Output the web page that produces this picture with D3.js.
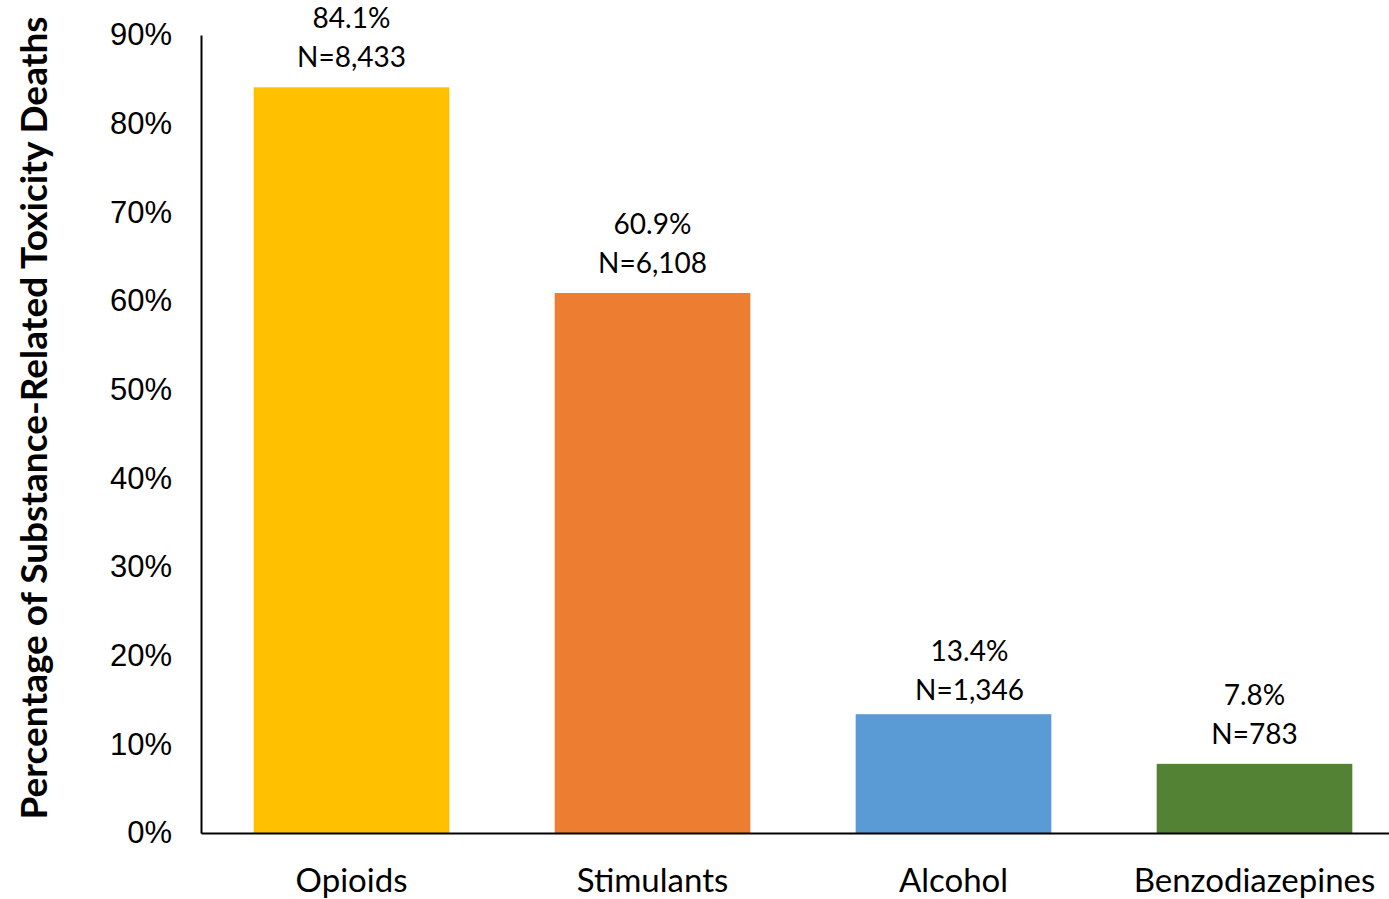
<!DOCTYPE html>
<html>
<head>
<meta charset="utf-8">
<script src="https://cdn.jsdelivr.net/npm/d3@7"></script>
<style>
  html, body { margin: 0; padding: 0; background: #fff; }
  svg { display: block; }
</style>
</head>
<body>
<div id="chart"></div>
<script>
const categories = ["Opioids", "Stimulants", "Alcohol", "Benzodiazepines"];
const percents = [84.1, 60.9, 13.4, 7.8];
const counts = ["8,433", "6,108", "1,346", "783"];
const colors = ["#FFC000", "#ED7D31", "#5B9BD5", "#548235"];
const yTicks = [0, 10, 20, 30, 40, 50, 60, 70, 80, 90];

const width = 1389, height = 899;
const plotLeft = 201, plotRight = 1405, plotTop = 35, plotBottom = 833;

// the alcohol label was dragged a little in the original
const labelNudge = { Alcohol: [16, 6] };

const svg = d3.select("#chart").append("svg")
    .attr("width", width)
    .attr("height", height);

const x = d3.scaleBand()
    .domain(categories)
    .range([plotLeft, plotRight])
    .paddingInner(0.35)
    .paddingOuter(0.175);

const y = d3.scaleLinear()
    .domain([0, 90])
    .range([plotBottom, plotTop]);

// bars
svg.append("g")
    .selectAll("rect")
    .data(categories)
    .join("rect")
    .attr("x", d => x(d))
    .attr("width", x.bandwidth())
    .attr("y", (d, i) => y(percents[i]))
    .attr("height", (d, i) => y(0) - y(percents[i]))
    .attr("fill", (d, i) => colors[i]);

// y axis
const yAxis = svg.append("g")
    .attr("transform", `translate(${plotLeft},0)`)
    .call(d3.axisLeft(y).tickValues(yTicks).tickSize(0).tickPadding(29).tickFormat(d => d + "%"));
yAxis.select(".domain").attr("stroke", "#000").attr("stroke-width", 2);
yAxis.selectAll("text")
    .attr("font-family", "'Liberation Sans', Arial, sans-serif")
    .attr("font-size", 31)
    .attr("fill", "#000");

// x axis
const xAxis = svg.append("g")
    .attr("transform", `translate(0,${plotBottom})`)
    .call(d3.axisBottom(x).tickSize(0).tickPadding(36));
xAxis.select(".domain").attr("stroke", "#000").attr("stroke-width", 2);
xAxis.selectAll("text")
    .attr("font-family", "Lato, sans-serif")
    .attr("font-size", 33)
    .attr("fill", "#000");

// data labels
const labels = svg.append("g")
    .attr("font-family", "Lato, sans-serif")
    .attr("font-size", 28)
    .attr("text-anchor", "middle")
    .attr("fill", "#000");

const nudge = d => labelNudge[d] || [0, 0];

labels.selectAll("text.pct")
    .data(categories)
    .join("text")
    .attr("class", "pct")
    .attr("x", d => x(d) + x.bandwidth() / 2 + nudge(d)[0])
    .attr("y", (d, i) => y(percents[i]) - 59 + nudge(d)[1])
    .text((d, i) => percents[i].toFixed(1) + "%");

labels.selectAll("text.n")
    .data(categories)
    .join("text")
    .attr("class", "n")
    .attr("x", d => x(d) + x.bandwidth() / 2 + nudge(d)[0])
    .attr("y", (d, i) => y(percents[i]) - 20 + nudge(d)[1])
    .text((d, i) => "N=" + counts[i]);

// y title
svg.append("text")
    .attr("transform", `translate(47,418) rotate(-90)`)
    .attr("text-anchor", "middle")
    .attr("font-family", "Lato, sans-serif")
    .attr("font-weight", "bold")
    .attr("font-size", 37)
    .attr("fill", "#000")
    .text("Percentage of Substance-Related Toxicity Deaths");
</script>
</body>
</html>
